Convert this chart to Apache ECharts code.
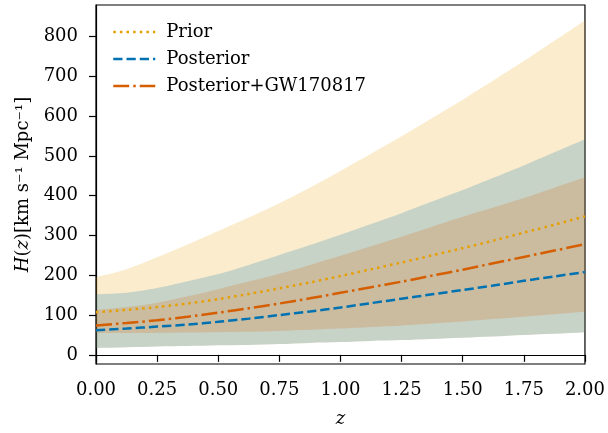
<!DOCTYPE html>
<html>
<head>
<meta charset="utf-8">
<script src="https://cdn.jsdelivr.net/npm/echarts@6/dist/echarts.min.js"></script>
<style>html,body{margin:0;padding:0;background:#fff}#c{width:608px;height:433px}</style>
</head>
<body>
<div id="c"></div>
<script>
var zValues = [0, 0.125, 0.25, 0.375, 0.5, 0.625, 0.75, 0.875, 1.0, 1.125, 1.25, 1.375, 1.5, 1.625, 1.75, 1.875, 2.0];
var xTicks = [0, 0.25, 0.5, 0.75, 1.0, 1.25, 1.5, 1.75, 2.0];
var yTicks = [0, 100, 200, 300, 400, 500, 600, 700, 800];

var priorMedian = [107, 113, 120, 129, 140, 153, 167, 182, 198, 215, 232, 250, 268, 287, 307, 327, 348];
var priorLower  = [17, 19, 21, 22, 24, 25, 27, 30, 32, 35, 37, 40, 43, 46, 50, 53, 57];
var priorUpper  = [195, 215, 245, 277, 311, 345, 381, 420, 462, 505, 549, 595, 641, 689, 738, 789, 840];

var postMedian  = [62, 66, 71, 76, 83, 91, 100, 109, 119, 130, 141, 152, 163, 174, 186, 197, 208];
var postLower   = [17, 19, 21, 22, 24, 25, 27, 30, 32, 35, 37, 40, 43, 46, 50, 53, 57];
var postUpper   = [152, 156, 168, 185, 203, 226, 251, 276, 302, 329, 356, 385, 414, 445, 476, 509, 542];

var gwMedian    = [74, 80, 87, 96, 106, 117, 129, 142, 156, 170, 184, 199, 214, 230, 246, 262, 278];
var gwLower     = [55, 55, 55, 56, 57, 58, 60, 63, 66, 70, 74, 79, 84, 90, 96, 102, 108];
var gwUpper     = [113, 120, 131, 147, 165, 184, 204, 226, 249, 273, 297, 322, 347, 370, 394, 420, 446];

var names = ['Prior', 'Posterior', 'Posterior+GW170817'];
var colors = ['#E69F00', '#0072B2', '#D55E00'];
var bandColors = ['rgba(230,159,0,0.2)', 'rgba(0,114,178,0.2)', 'rgba(213,94,0,0.2)'];

var FONT = 'DejaVu Serif';
var series = [];
var bands = [[priorLower, priorUpper], [postLower, postUpper], [gwLower, gwUpper]];

bands.forEach(function (b, k) {
  var lo = b[0], hi = b[1];
  series.push({
    type: 'custom',
    name: 'band' + k,
    silent: true,
    clip: true,
    z: 1,
    data: zValues.map(function (z, i) { return [z, lo[i], hi[i]]; }),
    encode: { x: 0, y: [1, 2] },
    renderItem: function (params, api) {
      if (params.dataIndex !== 0) return null;
      var n = zValues.length;
      var upper = [], lower = [];
      for (var i = 0; i < n; i++) {
        upper.push(api.coord([zValues[i], hi[i]]));
        lower.push(api.coord([zValues[i], lo[i]]));
      }
      var pts = [];
      pts.push(upper[0]);
      for (var j = 0; j < n; j++) pts.push(upper[j]);
      pts.push(upper[n - 1]);
      pts.push(lower[n - 1]);
      for (var m = n - 1; m >= 0; m--) pts.push(lower[m]);
      pts.push(lower[0]);
      return {
        type: 'polygon',
        shape: { points: pts, smooth: 0.3 },
        style: { fill: bandColors[k], stroke: null }
      };
    }
  });
});

var medians = [priorMedian, postMedian, gwMedian];
var LW = 2.5;
var dashes = [[1 * LW, 1.65 * LW], [3.7 * LW, 1.6 * LW], [6.4 * LW, 1.6 * LW, 1 * LW, 1.6 * LW]];
medians.forEach(function (m, k) {
  series.push({
    type: 'line', name: names[k],
    data: zValues.map(function (z, i) { return [z, m[i]]; }),
    symbol: 'none', smooth: 0.3, z: 5,
    lineStyle: { color: colors[k], width: LW, type: dashes[k], cap: 'butt' },
    itemStyle: { color: colors[k] }
  });
});

var chart = echarts.init(document.getElementById('c'), null, { renderer: 'canvas' });
chart.setOption({
  animation: false,
  backgroundColor: '#fff',
  textStyle: { fontFamily: FONT },
  grid: { left: 96, right: 21, top: 5, bottom: 66, show: true, borderColor: '#000', borderWidth: 1.2, backgroundColor: 'transparent' },
  legend: {
    data: names, orient: 'vertical', left: 107, top: 18,
    itemWidth: 42, itemHeight: 14, itemGap: 9,
    itemStyle: { opacity: 0 },
    lineStyle: { width: LW },
    textStyle: { fontFamily: FONT, fontSize: 18, color: '#000', lineHeight: 18, padding: [0, 0, 0, 6] }
  },
  xAxis: {
    type: 'value', min: 0, max: 2, interval: 0.25,
    name: 'z', nameLocation: 'middle', nameGap: 46,
    nameTextStyle: { fontFamily: FONT, fontSize: 18, fontStyle: 'italic', color: '#000' },
    axisLine: { show: true, lineStyle: { color: '#000', width: 1.2 } },
    axisTick: { show: true, length: 7, lineStyle: { color: '#000', width: 1.2 } },
    axisLabel: { fontFamily: FONT, fontSize: 18, color: '#000', margin: 17, formatter: function (v) { return v.toFixed(2); } },
    splitLine: { show: false }
  },
  yAxis: {
    type: 'value', min: -23, max: 879,
    name: '{i|H}({i|z})[km s\u207B\u00B9 Mpc\u207B\u00B9]', nameLocation: 'middle', nameGap: 64, nameRotate: 90,
    nameTextStyle: { fontFamily: FONT, fontSize: 18, color: '#000', rich: { i: { fontFamily: FONT, fontSize: 18, fontStyle: 'italic', color: '#000' } } },
    axisLine: { show: true, lineStyle: { color: '#000', width: 1.2 } },
    axisTick: { show: true, length: 7, customValues: yTicks, lineStyle: { color: '#000', width: 1.2 } },
    axisLabel: { fontFamily: FONT, fontSize: 18, color: '#000', margin: 18, customValues: yTicks },
    splitLine: { show: false }
  },
  series: series
});
</script>
</body>
</html>
